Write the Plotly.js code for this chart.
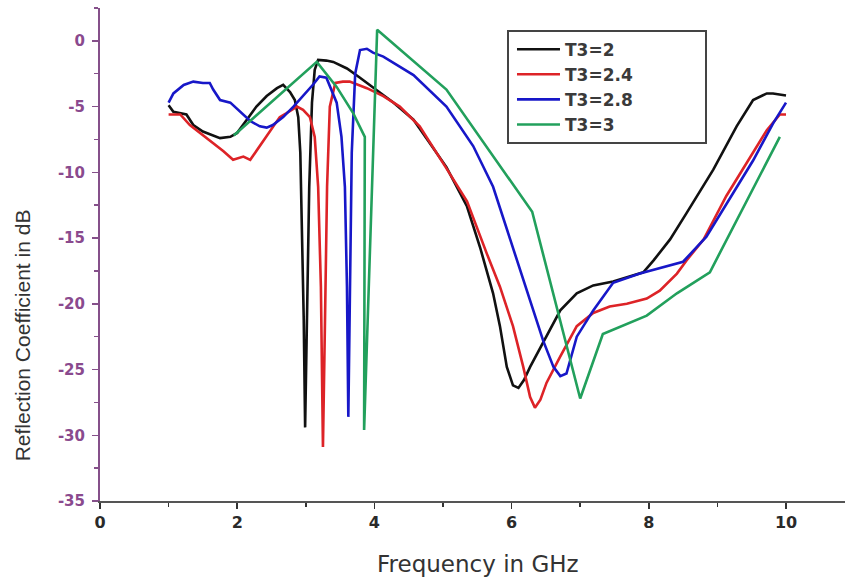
<!DOCTYPE html>
<html>
<head>
<meta charset="utf-8">
<script src="https://cdn.plot.ly/plotly-3.0.1.min.js"></script>
<style>
  html, body { margin: 0; padding: 0; background: #ffffff; }
  #chart { width: 845px; height: 579px; }
</style>
</head>
<body>
<div id="chart"></div>
<script>
// ---- Data ----
var seriesNames = ["T3=2", "T3=2.4", "T3=2.8", "T3=3"];

var freqT2 = [1.0, 1.07, 1.26, 1.36, 1.5, 1.65, 1.75, 1.9, 2.0, 2.14, 2.28, 2.43, 2.58, 2.67, 2.77, 2.84, 2.89, 2.92, 2.94, 2.97, 2.99, 3.02, 3.05, 3.09, 3.13, 3.18, 3.3, 3.4, 3.6, 3.79, 4.03, 4.28, 4.57, 5.05, 5.35, 5.54, 5.73, 5.83, 5.93, 6.02, 6.1, 6.18, 6.27, 6.51, 6.71, 6.95, 7.19, 7.48, 7.68, 7.92, 8.07, 8.31, 8.55, 8.94, 9.28, 9.52, 9.72, 9.81, 10.0];
var dbT2   = [-4.9, -5.4, -5.6, -6.4, -6.9, -7.2, -7.4, -7.3, -7.0, -6.0, -5.0, -4.2, -3.6, -3.35, -3.9, -4.5, -5.8, -8.5, -13.6, -21.2, -29.4, -21.2, -11.1, -4.7, -2.2, -1.45, -1.5, -1.6, -2.1, -2.8, -3.7, -4.7, -6.0, -9.6, -12.6, -15.7, -19.2, -21.7, -24.8, -26.2, -26.4, -25.8, -24.8, -22.5, -20.5, -19.2, -18.6, -18.3, -18.0, -17.6, -16.7, -15.1, -13.1, -9.8, -6.5, -4.5, -4.0, -4.0, -4.15];

var freqT24 = [1.0, 1.17, 1.31, 1.46, 1.65, 1.8, 1.94, 2.09, 2.19, 2.33, 2.48, 2.62, 2.72, 2.87, 2.96, 3.06, 3.13, 3.18, 3.22, 3.25, 3.28, 3.31, 3.35, 3.43, 3.54, 3.64, 3.89, 4.13, 4.37, 4.66, 5.05, 5.35, 5.64, 5.83, 6.02, 6.17, 6.27, 6.34, 6.42, 6.51, 6.71, 6.95, 7.19, 7.43, 7.68, 7.97, 8.16, 8.41, 8.55, 8.8, 9.13, 9.43, 9.72, 9.91, 10.0];
var dbT24   = [-5.6, -5.6, -6.4, -7.0, -7.8, -8.4, -9.05, -8.8, -9.05, -8.0, -6.8, -5.8, -5.5, -5.0, -5.25, -5.8, -7.3, -11.1, -18.7, -30.9, -21.2, -11.1, -5.0, -3.2, -3.1, -3.1, -3.6, -4.2, -5.0, -6.5, -9.7, -12.2, -16.2, -18.7, -21.7, -24.8, -27.1, -27.9, -27.3, -26.0, -24.0, -21.7, -20.7, -20.2, -20.0, -19.6, -19.0, -17.7, -16.7, -15.1, -11.8, -9.3, -6.8, -5.6, -5.6];

var freqT28 = [1.0, 1.07, 1.22, 1.36, 1.5, 1.6, 1.65, 1.75, 1.9, 2.04, 2.19, 2.33, 2.43, 2.52, 2.67, 2.82, 2.96, 3.11, 3.2, 3.3, 3.45, 3.52, 3.57, 3.6, 3.62, 3.64, 3.67, 3.72, 3.79, 3.89, 3.98, 4.13, 4.37, 4.57, 5.05, 5.44, 5.73, 6.02, 6.27, 6.46, 6.61, 6.71, 6.8, 6.95, 7.19, 7.48, 7.87, 8.16, 8.5, 8.84, 9.13, 9.52, 9.81, 10.0];
var dbT28   = [-4.7, -4.0, -3.35, -3.1, -3.2, -3.2, -3.7, -4.5, -4.7, -5.4, -6.1, -6.5, -6.6, -6.4, -5.8, -5.0, -4.2, -3.3, -2.7, -2.8, -4.7, -7.3, -11.1, -18.7, -28.6, -18.7, -8.5, -2.5, -0.7, -0.6, -0.9, -1.2, -1.95, -2.6, -5.0, -8.0, -11.1, -15.7, -19.7, -22.8, -24.8, -25.5, -25.3, -22.5, -20.5, -18.4, -17.7, -17.3, -16.8, -14.9, -12.4, -9.1, -6.3, -4.7];

var freqT3 = [1.95, 3.16, 3.45, 3.69, 3.86, 3.85, 4.04, 5.05, 6.3, 7.0, 7.33, 7.97, 8.41, 8.89, 9.91];
var dbT3   = [-7.2, -1.6, -3.5, -5.5, -7.3, -29.6, 0.85, -3.7, -13.0, -27.2, -22.3, -20.9, -19.2, -17.6, -7.3];

var seriesColors = ["#111111", "#dd2327", "#1717c8", "#22a05c"];

var xTickVals = [0, 2, 4, 6, 8, 10];
var xTickText = ["0", "2", "4", "6", "8", "10"];
var xMinorVals = [1, 3, 5, 7, 9];
var yTickVals = [0, -5, -10, -15, -20, -25, -30, -35];
var yTickText = ["0", "-5", "-10", "-15", "-20", "-25", "-30", "-35"];
var yMinorVals = [2.5, -2.5, -7.5, -12.5, -17.5, -22.5, -27.5, -32.5];

var xs = [freqT2, freqT24, freqT28, freqT3];
var ys = [dbT2, dbT24, dbT28, dbT3];

var traces = seriesNames.map(function (name, i) {
  return {
    type: "scatter",
    mode: "lines",
    name: name,
    x: xs[i],
    y: ys[i],
    line: { color: seriesColors[i], width: 2.6 },
    hoverinfo: "skip"
  };
});

var purple = "#85508a";

var layout = {
  width: 845,
  height: 579,
  margin: { l: 100, r: 0, t: 8, b: 78 },
  paper_bgcolor: "#ffffff",
  plot_bgcolor: "#ffffff",
  showlegend: true,
  font: { family: "Liberation Sans, Arial, sans-serif", color: "#333" },
  xaxis: {
    range: [0, 10.86],
    tickmode: "array",
    tickvals: xTickVals,
    ticktext: xTickText,
    ticks: "outside",
    ticklen: 6,
    tickwidth: 1.5,
    tickcolor: "#333",
    showline: true,
    linecolor: "#555",
    linewidth: 2,
    showgrid: false,
    zeroline: false,
    tickfont: { family: "DejaVu Sans, sans-serif", size: 16, color: "#2a2a2a", weight: "bold" },
    minor: { tickmode: "array", tickvals: xMinorVals, ticks: "outside", ticklen: 4, tickwidth: 1.5, tickcolor: "#333" }
  },
  yaxis: {
    range: [-35, 2.5],
    tickmode: "array",
    tickvals: yTickVals,
    ticktext: yTickText,
    ticks: "outside",
    ticklen: 6,
    tickwidth: 1.5,
    tickcolor: purple,
    showline: true,
    linecolor: purple,
    linewidth: 2,
    showgrid: false,
    zeroline: false,
    ticklabelstandoff: 4,
    tickfont: { family: "DejaVu Sans, sans-serif", size: 15, color: "#8a4a8e", weight: "bold" },
    minor: { tickmode: "array", tickvals: yMinorVals, ticks: "outside", ticklen: 4, tickwidth: 1.5, tickcolor: purple }
  },
  legend: {
    x: 0.553,
    y: 0.952,
    xanchor: "left",
    yanchor: "top",
    bgcolor: "rgba(0,0,0,0)",
    borderwidth: 0,
    itemwidth: 43,
    font: { family: "DejaVu Sans, sans-serif", size: 17, color: "#3a3a3a", weight: "bold" },
    tracegroupgap: 0
  },
  shapes: [
    {
      type: "rect",
      xref: "paper", yref: "paper",
      x0: (508 - 100) / 745, x1: (706 - 100) / 745,
      y0: (501 - 143) / 493, y1: (501 - 31) / 493,
      line: { color: "#444", width: 2 },
      fillcolor: "rgba(0,0,0,0)"
    }
  ],
  annotations: [
    {
      text: "Frequency in GHz",
      xref: "paper", yref: "paper",
      x: 0.507, y: -0.128,
      xanchor: "center", yanchor: "middle",
      showarrow: false,
      font: { family: "DejaVu Sans, sans-serif", size: 23, color: "#333" }
    },
    {
      text: "Reflection Coefficient in dB",
      xref: "paper", yref: "paper",
      x: -0.104, y: 0.335,
      xanchor: "center", yanchor: "middle",
      textangle: -90,
      showarrow: false,
      font: { family: "Liberation Sans, Arial, sans-serif", size: 21, color: "#333" }
    }
  ]
};

Plotly.newPlot("chart", traces, layout, { displayModeBar: false, staticPlot: true });
</script>
</body>
</html>
